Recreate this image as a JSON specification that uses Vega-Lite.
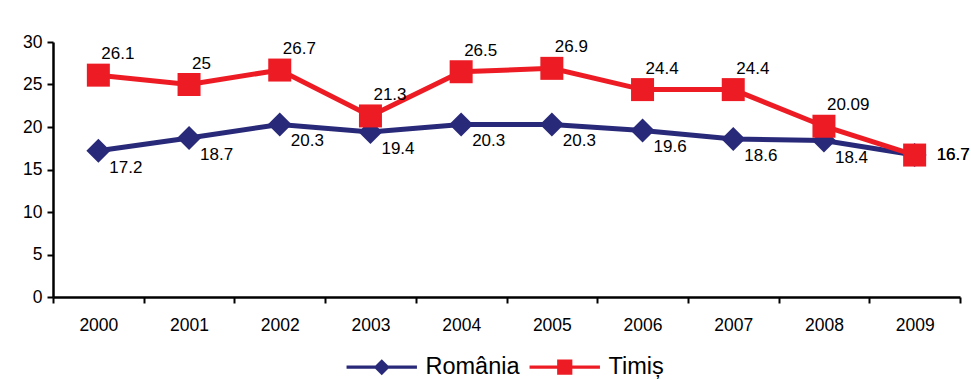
{
  "$schema": "https://vega.github.io/schema/vega-lite/v6.json",
  "width": 907,
  "height": 255,
  "autosize": {"type": "none"},
  "padding": {"left": 53, "top": 42, "right": 11, "bottom": 83},
  "background": "white",
  "config": {
    "view": {"stroke": null},
    "font": "Liberation Sans",
    "axis": {"labelFont": "Liberation Sans", "labelColor": "black", "labelFontSize": 17.5, "domainColor": "black", "tickColor": "black", "grid": false, "title": null}
  },
  "data": {
    "values": [
      {"year": "2000", "series": "România", "value": 17.2},
      {"year": "2001", "series": "România", "value": 18.7},
      {"year": "2002", "series": "România", "value": 20.3},
      {"year": "2003", "series": "România", "value": 19.4},
      {"year": "2004", "series": "România", "value": 20.3},
      {"year": "2005", "series": "România", "value": 20.3},
      {"year": "2006", "series": "România", "value": 19.6},
      {"year": "2007", "series": "România", "value": 18.6},
      {"year": "2008", "series": "România", "value": 18.4},
      {"year": "2009", "series": "România", "value": 16.7},
      {"year": "2000", "series": "Timiș", "value": 26.1},
      {"year": "2001", "series": "Timiș", "value": 25},
      {"year": "2002", "series": "Timiș", "value": 26.7},
      {"year": "2003", "series": "Timiș", "value": 21.3},
      {"year": "2004", "series": "Timiș", "value": 26.5},
      {"year": "2005", "series": "Timiș", "value": 26.9},
      {"year": "2006", "series": "Timiș", "value": 24.4},
      {"year": "2007", "series": "Timiș", "value": 24.4},
      {"year": "2008", "series": "Timiș", "value": 20.09},
      {"year": "2009", "series": "Timiș", "value": 16.7}
    ]
  },
  "encoding": {
    "x": {
      "field": "year", "type": "ordinal",
      "scale": {"type": "band", "paddingInner": 0, "paddingOuter": 0},
      "axis": {"labelAngle": 0, "tickBand": "extent", "domainWidth": 2.5, "tickWidth": 2, "tickSize": 6, "labelPadding": 13}
    },
    "y": {
      "field": "value", "type": "quantitative",
      "scale": {"domain": [0, 30], "nice": false, "zero": true},
      "axis": {"values": [0, 5, 10, 15, 20, 25, 30], "domainWidth": 2.5, "tickWidth": 2, "tickSize": 6, "labelPadding": 5}
    }
  },
  "layer": [
    {
      "mark": {"type": "point", "filled": true, "opacity": 0, "size": 256},
      "encoding": {
        "color": {
          "field": "series", "type": "nominal",
          "scale": {"domain": ["România", "Timiș"], "range": ["#29297a", "#ed1c24"]},
          "legend": {"orient": "none", "legendX": 317, "legendY": 313, "direction": "horizontal", "title": null, "labelFontSize": 23.5, "labelFont": "Liberation Sans", "labelColor": "black", "symbolSize": 256, "labelOffset": 32, "columnPadding": 9, "symbolOpacity": 1, "symbolStrokeWidth": 0}
        },
        "shape": {
          "field": "series", "type": "nominal",
          "scale": {"domain": ["România", "Timiș"], "range": ["M-4.4,-0.2H4.4V0.2H-4.4ZM0,-1L1,0L0,1L-1,0Z", "M-4.4,-0.2H4.4V0.2H-4.4ZM-0.95,-0.95H0.95V0.95H-0.95Z"]}
        }
      }
    },
    {
      "mark": {"type": "line", "strokeWidth": 5},
      "encoding": {"color": {"field": "series", "type": "nominal"}}
    },
    {
      "transform": [{"filter": "datum.series === 'România'"}],
      "mark": {"type": "point", "shape": "diamond", "filled": true, "size": 576, "opacity": 1},
      "encoding": {"color": {"field": "series", "type": "nominal"}}
    },
    {
      "transform": [{"filter": "datum.series === 'Timiș'"}],
      "mark": {"type": "point", "shape": "square", "filled": true, "size": 529, "opacity": 1},
      "encoding": {"color": {"field": "series", "type": "nominal"}}
    },
    {
      "transform": [{"filter": "datum.series === 'Timiș' && datum.year !== '2009'"}],
      "mark": {"type": "text", "align": "left", "baseline": "middle", "dx": 3, "dy": -21, "fontSize": 17, "font": "Liberation Sans", "color": "black"},
      "encoding": {"text": {"field": "value", "type": "quantitative"}}
    },
    {
      "transform": [{"filter": "datum.series === 'România' && datum.year !== '2009'"}],
      "mark": {"type": "text", "align": "left", "baseline": "middle", "dx": 11, "dy": 17, "fontSize": 17, "font": "Liberation Sans", "color": "black"},
      "encoding": {"text": {"field": "value", "type": "quantitative"}}
    },
    {
      "transform": [{"filter": "datum.year === '2009'"}],
      "mark": {"type": "text", "align": "left", "baseline": "middle", "dx": 22, "dy": 0, "fontSize": 17, "font": "Liberation Sans", "color": "black"},
      "encoding": {"text": {"field": "value", "type": "quantitative"}}
    }
  ]
}
